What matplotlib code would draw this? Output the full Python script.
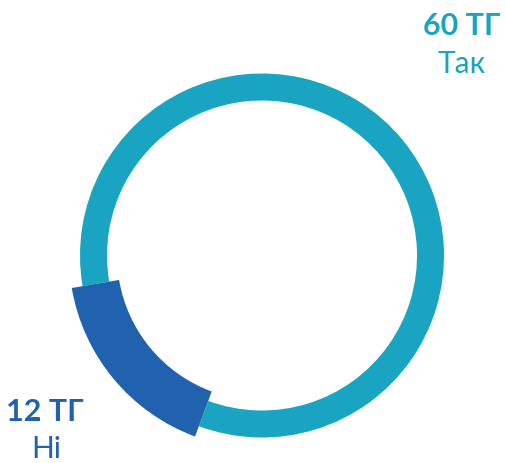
import matplotlib
matplotlib.use("Agg")
import matplotlib.pyplot as plt

labels = ["Так", "Ні"]
values = [60, 12]
value_text = ["60 ТГ", "12 ТГ"]
colors = ["#19a5c1", "#2162ae"]

W, H = 505, 464
fig = plt.figure(figsize=(W / 100, H / 100), dpi=100)
ax = fig.add_axes([0, 0, 1, 1])

cx, cy = 262, H - 256.5
wedges, _ = ax.pie(values, colors=colors, startangle=189.7, counterclock=False,
                   radius=182, center=(cx, cy),
                   wedgeprops=dict(width=27, linewidth=0))
# "Ні" segment is drawn thicker than the ring
wedges[1].set_radius(193)
wedges[1].set_width(48)

ax.set_xlim(0, W)
ax.set_ylim(0, H)
ax.set_aspect("equal")
ax.axis("off")

font = "Lato"
# labels: value (bold) above category name
ax.text(462, H - 26, value_text[0], color=colors[0], fontsize=22, fontweight="bold",
        family=font, ha="center", va="center")
ax.text(462, H - 64, labels[0], color=colors[0], fontsize=21.5,
        family=font, ha="center", va="center")
ax.text(45, H - 412.5, value_text[1], color=colors[1], fontsize=22, fontweight="bold",
        family=font, ha="center", va="center")
ax.text(46, H - 449, labels[1], color=colors[1], fontsize=21.5,
        family=font, ha="center", va="center")

fig.savefig("out.png", dpi=100)
